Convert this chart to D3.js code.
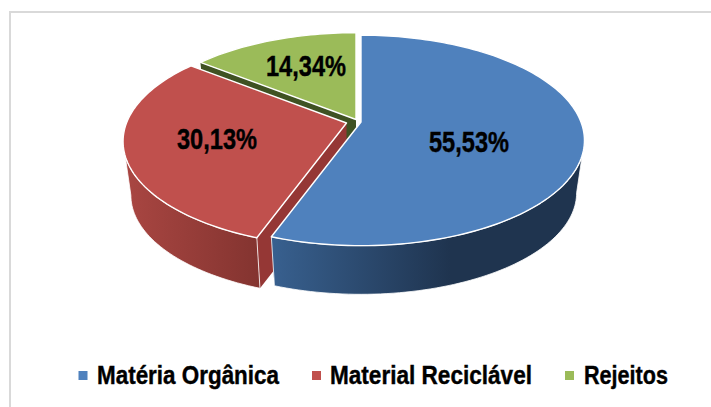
<!DOCTYPE html>
<html>
<head>
<meta charset="utf-8">
<script src="https://cdn.jsdelivr.net/npm/d3@7"></script>
<style>
  html, body { margin: 0; padding: 0; background: #fff; }
  svg { display: block; }
  text { font-family: "Liberation Sans", sans-serif; font-weight: bold; fill: #000; stroke: #000; stroke-width: 0.4; }
</style>
</head>
<body>
<svg></svg>
<script>
let categories = ['Matéria Orgânica', 'Material Reciclável', 'Rejeitos']
let values = [55.53, 30.13, 14.34]
let valueLabels = ['55,53%', '30,13%', '14,34%']

let svgWidth = 711
let svgHeight = 407

let svg = d3.select('svg')
  .attr('width', svgWidth)
  .attr('height', svgHeight)

// COLOURS, one entry per slice
let topColor = ['#4f81bd', '#c0504d', '#9bbb59']
let wallColor = ['#2a4a70', '#953735', '#3f5223']
let rimFrom = ['#38608f', '#a94642', '#76923c']
let rimTo = ['#1f344f', '#843430', '#4f6228']

// WHERE EACH SLICE TIP SITS (slices are pulled apart)
let tipX = [361, 346.5, 356]
let tipY = [122, 123, 119.5]
let labelX = [469, 217, 306]
let labelY = [142, 139, 66]

// PIE GEOMETRY
let radius = 220
let radiusY = 102
let tilt = 0.175   // perspective, back of the pie looks smaller
let depth = [53, 54.5, 53]
let bottomScale = 0.965
let edgeAngle = Math.acos(-tilt)   // where the pie outline turns back

let pie = d3.pie().sort(null)
let slices = pie(values)

function project(i, angle, low) {
  let w = 1 + tilt * Math.cos(angle)
  let s = low ? bottomScale : 1
  return [
    tipX[i] + s * radius * Math.sin(angle) / w,
    tipY[i] + (low ? depth[i] : 0) - s * radiusY * Math.cos(angle) / w
  ]
}

function arcPoints(i, a0, a1, low) {
  let n = Math.max(2, Math.ceil(Math.abs(a1 - a0) * 40))
  return d3.range(n + 1).map(k => project(i, a0 + (a1 - a0) * k / n, low))
}

let line = d3.line()
let tip = (i, low) => [tipX[i], tipY[i] + (low ? depth[i] : 0)]

// GRADIENTS for the outer walls
let defs = svg.append('defs')
let gradStops = [[272, 450], [125, 257], [200, 360]]
slices.forEach((d, i) => {
  let g = defs.append('linearGradient')
    .attr('id', 'rim' + i)
    .attr('gradientUnits', 'userSpaceOnUse')
    .attr('x1', gradStops[i][0]).attr('x2', gradStops[i][1])
    .attr('y1', 0).attr('y2', 0)
  g.append('stop').attr('offset', 0).attr('stop-color', rimFrom[i])
  g.append('stop').attr('offset', 1).attr('stop-color', rimTo[i])
})

// FRAME
svg.append('path')
  .attr('d', `M10,${svgHeight}V12H${svgWidth}`)
  .attr('fill', 'none')
  .attr('stroke', '#d9d9d9')
  .attr('stroke-width', 2)

// THE PIE, back to front
let order = [2, 1, 0]
order.forEach(i => {
  let d = slices[i]
  let a0 = d.startAngle
  let a1 = d.endAngle
  let g = svg.append('g')

  // cut face
  let cutAngle = i === 0 ? a1 : a0
  g.append('path')
    .attr('d', line([tip(i), project(i, cutAngle), project(i, cutAngle, true), tip(i, true)]) + 'Z')
    .attr('fill', wallColor[i])

  // outer wall, only the part that faces us
  let from = Math.max(a0, edgeAngle)
  let to = Math.min(a1, Math.PI * 2 - edgeAngle)
  if (to > from) {
    let pts = arcPoints(i, from, to).concat(arcPoints(i, to, from, true))
    g.append('path')
      .attr('d', line(pts) + 'Z')
      .attr('fill', `url(#rim${i})`)
      .attr('stroke', '#fff')
      .attr('stroke-width', 0.8)
  }

  // top face
  let top = [tip(i)].concat(arcPoints(i, a0, a1))
  g.append('path')
    .attr('d', line(top) + 'Z')
    .attr('fill', topColor[i])
    .attr('stroke', '#fff')
    .attr('stroke-width', 1.4)
    .attr('stroke-linejoin', 'round')
})

// VALUE LABELS
svg.selectAll('text.value')
  .data(valueLabels)
  .enter()
  .append('text')
  .attr('class', 'value')
  .attr('x', (d, i) => labelX[i])
  .attr('y', (d, i) => labelY[i])
  .attr('dy', '0.35em')
  .attr('text-anchor', 'middle')
  .attr('font-size', 29)
  .attr('textLength', 80)
  .attr('lengthAdjust', 'spacingAndGlyphs')
  .text(d => d)

// LEGEND
let legendMarkX = [78.5, 312, 565]
let legendTextX = [97, 330, 584]
let legendTextW = [182, 202, 84]
let legendY = 375.5

svg.selectAll('rect.mark')
  .data(categories)
  .enter()
  .append('rect')
  .attr('class', 'mark')
  .attr('x', (d, i) => legendMarkX[i])
  .attr('y', legendY - 4.5)
  .attr('width', 9)
  .attr('height', 9)
  .attr('fill', (d, i) => topColor[i])

svg.selectAll('text.legend')
  .data(categories)
  .enter()
  .append('text')
  .attr('class', 'legend')
  .attr('x', (d, i) => legendTextX[i])
  .attr('y', legendY + 8)
  .attr('font-size', 26)
  .attr('textLength', (d, i) => legendTextW[i])
  .attr('lengthAdjust', 'spacingAndGlyphs')
  .text(d => d)
</script>
</body>
</html>
